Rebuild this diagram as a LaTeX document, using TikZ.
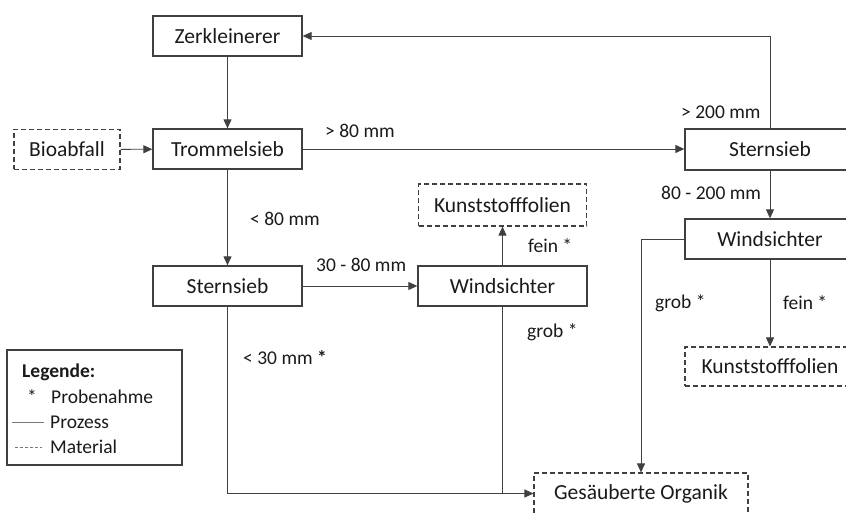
\documentclass[tikz,border=0pt]{standalone}
\usepackage{fontspec}
\setmainfont{Carlito}
\usetikzlibrary{arrows.meta}
\definecolor{ln}{HTML}{404040}
\definecolor{tx}{HTML}{1A1A1A}
\tikzset{
  proc/.style={draw=ln, line width=1.3pt, rectangle, minimum height=40pt, inner sep=0pt, text=tx, font=\fontsize{21.5}{23}\selectfont},
  mat/.style={proc, dashed, line width=1.1pt, dash pattern=on 5pt off 3pt},
  arr/.style={draw=ln, line width=0.9pt, -{Triangle[length=9pt,width=8pt]}},
  con/.style={draw=ln, line width=0.9pt},
  lbl/.style={text=tx, font=\fontsize{19.5}{21}\selectfont, inner sep=0pt, anchor=west},
}
\begin{document}
\begin{tikzpicture}[x=1pt,y=-1pt]
\useasboundingbox (0,0) rectangle (846,513);
% process nodes
\node[proc, minimum width=149pt] (zerk) at (227.5,36) {Zerkleinerer};
\node[proc, minimum width=149pt] (trom) at (227.5,149) {Trommelsieb};
\node[mat, minimum width=106pt] (bio) at (67,149.5) {Bioabfall};
\node[proc, minimum width=149pt] (sternL) at (227.5,286) {Sternsieb};
\node[proc, minimum width=169pt] (windM) at (502.5,286) {Windsichter};
\node[mat, minimum width=168pt, minimum height=42pt] (kunstM) at (502.5,205) {Kunststofffolien};
\node[proc, minimum width=170pt, minimum height=41pt] (sternR) at (770,149.5) {Sternsieb};
\node[proc, minimum width=170pt] (windR) at (770,239) {Windsichter};
\node[mat, minimum width=170pt, minimum height=39pt] (kunstR) at (770,366.5) {Kunststofffolien};
\node[mat, minimum width=214pt, minimum height=41pt] (org) at (641,493.5) {Gesäuberte Organik};
% connectors
\draw[arr] (zerk) -- (trom);
\draw[arr] (bio) -- (trom);
\draw[arr] (trom.east) -- (trom.east -| sternR.west);
\draw[arr] (trom) -- (sternL);
\draw[arr] (sternL) -- (windM);
\draw[arr] (windM) -- (kunstM);
\draw[arr] (sternR.north) |- (zerk.east);
\draw[arr] (sternR) -- (windR);
\draw[arr] (windR) -- (kunstR);
\draw[arr] (windR.west) -| (org.north);
\draw[arr] (sternL.south) |- (org.west);
\draw[con] (windM.south) -- (windM.south |- org.west);
% labels
\node[lbl] (l1) at (325,131) {> 80 mm};
\node[lbl] (l2) at (250,219) {< 80 mm};
\node[lbl] (l3) at (316,265) {30 - 80 mm};
\node[lbl] (l4) at (243,358) {< 30 mm \textbf{*}};
\node[lbl] (l5) at (528,246) {fein *};
\node[lbl] (l6) at (527,332) {grob *};
\node[lbl] (l7) at (681,112) {> 200 mm};
\node[lbl] (l8) at (661,193) {80 - 200 mm};
\node[lbl] (l9) at (655,303) {grob *};
\node[lbl] (l10) at (783,303) {fein *};
% legend
\node[draw=ln, line width=1.1pt, minimum width=175pt, minimum height=115pt, inner sep=0pt] (leg) at (94.5,407.5) {};
\node[lbl, font=\fontsize{19.5}{21}\selectfont\bfseries] (lt) at (22,372) {Legende:};
\node[lbl] (ls) at (27,397) {*};
\node[lbl] (lp) at (51,397) {Probenahme};
\coordinate (pa) at (12,422);
\coordinate (pb) at (44,422);
\draw[draw=ln!70, line width=0.8pt] (pa) -- (pb);
\node[lbl] (lpr) at (50,422) {Prozess};
\coordinate (ma) at (15,447);
\coordinate (mb) at (42,447);
\draw[draw=ln!70, line width=0.8pt, dash pattern=on 3pt off 2pt] (ma) -- (mb);
\node[lbl] (lm) at (50,447) {Material};
\end{tikzpicture}
\end{document}
